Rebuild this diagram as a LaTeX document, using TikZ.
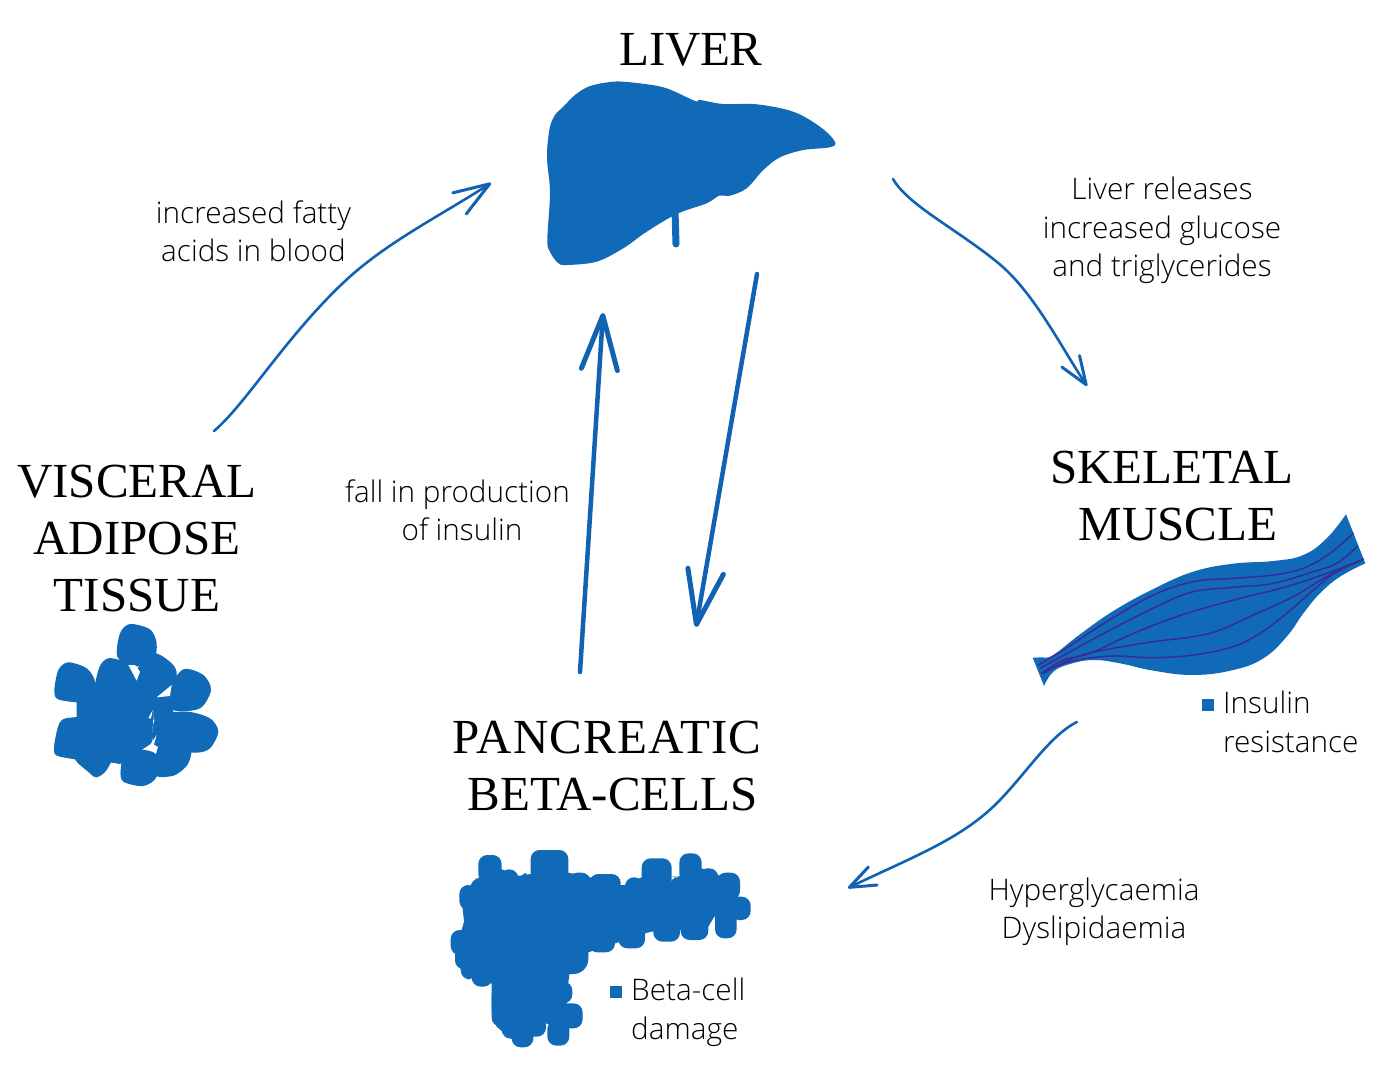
\documentclass[tikz,border=0pt]{standalone}
\usepackage{fontspec}
\setmainfont{Liberation Serif}
\newfontfamily\labelfont{Open Sans Light}
\usetikzlibrary{arrows.meta}
\definecolor{organ}{HTML}{116AB8}
\definecolor{fibre}{HTML}{3A2A96}
\definecolor{flow}{HTML}{1262B4}
\tikzset{
  organ shape/.style={fill=organ,draw=none},
  heading/.style={font=\fontsize{49}{57}\selectfont,align=center,text=black,inner sep=0pt},
  caption/.style={font=\labelfont\fontsize{29.7}{38.3}\selectfont,align=center,text=black,inner sep=0pt},
  fine flow/.style={draw=flow,line width=2.6pt,line cap=round},
  bold flow/.style={draw=flow,line width=4.5pt,line cap=round,-{Straight Barb[length=54pt,width=36pt,line width=5pt,round]}},
  fibre line/.style={draw=fibre,line width=1.5pt,line cap=round},
  zoomed/.style={x=0.33333pt,y=-0.33333pt},
  bullet mark/.style={fill=organ,minimum size=12.5pt,inner sep=0pt},
}
\begin{document}
\begin{tikzpicture}[x=1pt,y=-1pt]
\useasboundingbox (0,0) rectangle (1400,1081);

% liver
\fill[organ shape] plot[smooth cycle,tension=0.55] coordinates {
 (547.3,146.7) (550,126.7) (555,115) (563.3,106.7) (575,95) (588.3,86.7) (605,82.7) (623.3,81.7)
 (663.3,87.3) (695,101) (700,100)
 (723.3,104) (756.7,104.3) (793.3,111.7) (820,126.7) (835,141.7) (830,147.3) (803.3,150)
 (780,157.3) (763.3,170) (746.7,188.3) (730,195.7) (719.3,195.7) (706.7,203.3) (676.7,214)
 (646.7,231.7) (623.3,248.3) (596.7,261.7) (566.7,265) (558,263) (550,252) (547.3,240) (550,193.3) (547.3,163.3)};
\draw[organ,line width=7pt,line cap=round] (675,210) -- (676,244);

% skeletal muscle
\begin{scope}[shift={(1020,500)},zoomed]
\fill[organ shape] (38,473) -- plot[smooth,tension=0.7] coordinates {(70,472) (100,465) (180,403) (280,333) (400,267) (520,215) (640,191) (760,183) (850,165) (920,115) (978,43)}
  -- plot[smooth,tension=0.7] coordinates {(1036,190) (960,230) (900,280) (850,340) (800,410) (730,475) (640,510) (520,525) (400,512) (300,490) (220,480) (150,492) (100,515) (72,558)} -- cycle;
\draw[fibre line] plot[smooth,tension=0.6] coordinates {(55,495) (130,450) (260,365) (400,285) (520,245) (640,235) (760,225) (850,205) (930,160) (1000,100)};
\draw[fibre line] plot[smooth,tension=0.6] coordinates {(60,505) (160,450) (280,385) (420,315) (520,275) (640,262) (760,250) (880,215) (950,190) (1012,140)};
\draw[fibre line] plot[smooth,tension=0.6] coordinates {(65,520) (130,480) (210,460) (340,400) (470,350) (550,325) (680,290) (800,260) (920,220) (1030,178)};
\draw[fibre line] plot[smooth,tension=0.6] coordinates {(70,520) (170,470) (280,445) (400,425) (520,410) (600,390) (700,345) (820,290) (920,230) (1030,178)};
\draw[fibre line] plot[smooth,tension=0.6] coordinates {(95,505) (170,480) (280,468) (400,473) (520,465) (640,440) (720,400) (800,340) (880,270) (950,215) (1030,178)};
\end{scope}

% visceral adipose lobules
\begin{scope}[shift={(40,610)},zoomed]
\fill[organ shape] plot[smooth cycle] coordinates {(270,42) (330,58) (350,100) (340,150) (280,170) (232,140) (240,70)};
\fill[organ shape] plot[smooth cycle] coordinates {(340,130) (395,160) (410,195) (380,250) (300,260) (285,190)};
\fill[organ shape] plot[smooth cycle] coordinates {(430,178) (490,195) (513,240) (480,295) (400,300) (385,240)};
\fill[organ shape] plot[smooth cycle] coordinates {(440,305) (510,325) (535,365) (510,415) (470,428) (400,420) (340,400) (350,320)};
\fill[organ shape] plot[smooth cycle] coordinates {(85,157) (140,175) (165,215) (155,275) (60,270) (43,245) (55,180)};
\fill[organ shape] plot[smooth cycle] coordinates {(205,145) (260,160) (290,210) (280,300) (165,290) (175,180)};
\fill[organ shape] (110,250) -- (345,240) -- (335,400) -- (240,462) -- (110,440) -- cycle;
\fill[organ shape] plot[smooth cycle] coordinates {(90,323) (180,330) (180,445) (60,440) (42,415) (58,340)};
\fill[organ shape] plot[smooth cycle] coordinates {(105,440) (150,490) (170,502) (200,480) (220,420)};
\fill[organ shape] plot[smooth cycle] coordinates {(260,420) (345,430) (350,500) (310,528) (250,515) (242,480)};
\fill[organ shape] plot[smooth cycle] coordinates {(370,380) (450,400) (445,460) (400,497) (340,490)};
\fill[organ shape] (340,240) -- (400,240) -- (400,310) -- (340,330) -- cycle;
\fill[white] (265,165) -- (285,165) -- (300,185) -- (290,212) -- cycle;
\fill[white] (350,262) -- (395,225) -- (390,258) -- cycle;
\fill[white] (325,325) -- (338,300) -- (333,325) -- cycle;
\fill[white] (325,413) -- (350,375) -- (337,420) -- cycle;
\end{scope}

% pancreas: solid body through the notches, with rounded lobes on its outline
\begin{scope}[shift={(440,840)},zoomed]
\fill[organ shape] (118,112) -- (185,88) -- (235,108) -- (272,102) -- (385,98) -- (450,112)
  -- (540,135) -- (555,135) -- (605,112) -- (690,128) -- (715,110) -- (785,85) -- (835,105)
  -- (885,170) -- (890,240) -- (823,230) -- (805,260) -- (720,270) -- (635,275) -- (615,280)
  -- (525,310) -- (445,337) -- (388,402) -- (385,428) -- (380,490) -- (345,560) -- (318,550)
  -- (280,590) -- (210,595) -- (170,560) -- (155,510) -- (155,430) -- (105,420) -- (65,385)
  -- (45,345) -- (65,270) -- (72,245) -- (68,205) -- (92,135) -- cycle;
\foreach \xa/\ya/\xb/\yb in {115/45/185/130, 272/30/385/130, 180/88/235/140, 235/100/275/130,
  385/98/452/140, 448/102/542/170, 555/112/610/160, 605/55/695/150, 690/110/722/140,
  718/40/785/130, 775/85/835/140, 830/98/900/180, 870/170/932/240, 825/200/890/295,
  722/230/805/300, 640/240/720/305, 535/250/615/325, 445/250/525/337, 340/425/397/490,
  340/490/428/565, 322/540/388/617, 215/560/280/622, 250/530/318/590, 185/540/240/596,
  155/440/200/560, 95/380/158/440, 62/350/110/418, 45/320/100/388, 32/270/90/345,
  58/135/110/210, 92/115/130/160}
  \fill[organ shape,rounded corners=9pt] (\xa,\ya) rectangle (\xb,\yb);
\fill[organ shape,rounded corners=15pt] (330,290) rectangle (445,402);
\end{scope}

% headings
\node[heading] (liver) at (691,50) {\addfontfeatures{LetterSpace=-1}LIVER};
\node[heading] (muscle) at (1172,496.5) {SKELETAL\\\hspace*{12pt}MUSCLE};
\node[heading] (adipose) at (137,538.5) {VISCERAL\\ADIPOSE\\TISSUE};
\node[heading] (pancreas) at (607,766) {\addfontfeatures{LetterSpace=2.6}PANCREATIC\\\hspace*{12pt}BETA-CELLS};

% captions
\node[caption] (fatty) at (253.5,231) {increased fatty\\acids in blood};
\node[caption] (glucose) at (1162,230.5) {Liver releases\\increased glucose\\and triglycerides};
\node[caption] (insulin) at (457.5,510.5) {fall in production\\\hspace*{9pt}of insulin};
\node[caption] (hyper) at (1094,912) {Hyperglycaemia\\Dyslipidaemia};
\node[caption,align=left,anchor=north west] (resist) at (1223,691) {Insulin\\resistance};
\node[caption,align=left,anchor=north west] (damage) at (631,978) {Beta-cell\\damage};
\node[bullet mark] (bulletresist) at (1208,705) {};
\node[bullet mark] (bulletdamage) at (616,992) {};

% flows between organs
\coordinate (a1) at (214,431); \coordinate (a2) at (491,183);
\coordinate (b1) at (893,179); \coordinate (b2) at (1087,386);
\coordinate (c1) at (1077,722); \coordinate (c2) at (848,888);
\coordinate (d1) at (580,672); \coordinate (d2) at (603,313);
\coordinate (e1) at (757,274); \coordinate (e2) at (696,627);
\draw[fine flow,-{Straight Barb[length=36pt,width=25pt,line width=3pt,round]}]
  (a1) .. controls (245,405) and (285,338) .. (343,283) .. controls (385,243) and (440,216) .. (a2);
\draw[fine flow,-{Straight Barb[length=28pt,width=21pt,line width=3pt,round]}]
  (b1) .. controls (908,205) and (955,228) .. (997,262) .. controls (1033,291) and (1060,345) .. (b2);
\draw[fine flow,-{Straight Barb[length=26pt,width=20pt,line width=3pt,round]}]
  (c1) .. controls (1050,735) and (1025,775) .. (997,803) .. controls (960,840) and (910,858) .. (c2);
\draw[bold flow] (d1) -- (d2);
\draw[bold flow] (e1) -- (e2);
\end{tikzpicture}
\end{document}
